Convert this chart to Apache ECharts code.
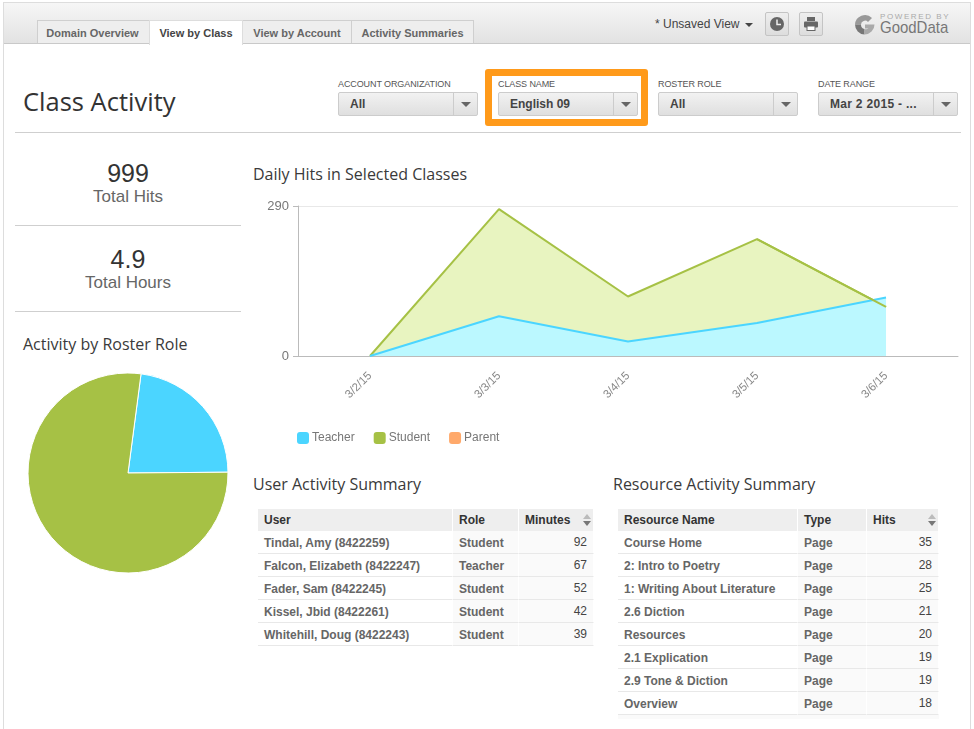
<!DOCTYPE html>
<html><head><meta charset="utf-8">
<script src="https://cdn.jsdelivr.net/npm/echarts@6/dist/echarts.min.js"></script>
<style>
html,body{margin:0;padding:0;background:#fff;width:974px;height:729px;overflow:hidden;font-family:"Liberation Sans",Arial,sans-serif}
#page{position:absolute;left:0;top:0;width:974px;height:729px;overflow:hidden}
#page div,#page table{position:absolute}
#chart{position:absolute;left:0;top:0;width:974px;height:729px}
.frame{left:3px;top:2px;width:966px;height:740px;border:1px solid #ddd}
.head{left:4px;top:3px;width:966px;height:40px;background:linear-gradient(#f6f6f6,#e2e2e2);border-bottom:1px solid #c9c9c9}
.tab{top:20px;height:23px;line-height:24px;text-align:center;font-size:11px;font-weight:bold;color:#666;background:#eee;border:1px solid #cfcfcf;border-bottom:none;box-sizing:border-box}
.tab.on{background:#fff;color:#444;border-color:#ddd;height:25px;z-index:2}
.h1{left:23px;top:83px;font:25.5px "Open Sans",sans-serif;color:#333;line-height:36px;white-space:nowrap}
.rule{height:1px;background:#cfcfcf}
.flab{top:79px;font-size:9px;letter-spacing:-.1px;color:#555;line-height:11px;white-space:nowrap}
.sel{top:92px;width:140px;height:24px;box-sizing:border-box;background:linear-gradient(#f2f2f2,#dfdfdf);border:1px solid #ccc;border-radius:2px;font-size:12px;font-weight:bold;color:#444;line-height:22px;padding-left:11px;white-space:nowrap}
.sel i{position:absolute;right:23px;top:0;width:1px;height:22px;background:#ccc}
.sel b{position:absolute;right:6px;top:9px;width:0;height:0;border:5px solid transparent;border-top:5px solid #666;border-bottom:none}
.orange{left:485px;top:69px;width:163px;height:57px;box-sizing:border-box;border:7px solid #ff9a1a;border-radius:3px}
.kpi{left:15px;width:226px;text-align:center;white-space:nowrap}
.num{font-size:25px;color:#333;line-height:28px}
.cap{font-size:17px;color:#666;line-height:20px}
.ttl{font:16px "Open Sans",sans-serif;color:#3a3a3a;line-height:22px;white-space:nowrap}
table{border-collapse:separate;border-spacing:0;table-layout:fixed;font-size:12px}
th{height:22px;background:#eee;color:#333;font-weight:bold;text-align:left;padding:0 6px;box-sizing:border-box;border-right:1px solid #fff;position:relative}
td{height:23px;box-sizing:border-box;padding:2px 6px 0;border-bottom:1px solid #e8e8e8;border-right:1px solid #fff;font-weight:bold;color:#666;background:#fafafa;white-space:nowrap}
td:first-child{background:#fff}
td.n{font-weight:normal;color:#444;text-align:right;padding:0 6px 0}
.sort{position:absolute;right:6px;top:5px;width:0;height:0}
.sort:before{content:"";position:absolute;left:-4px;top:0;border:4px solid transparent;border-bottom:5px solid #bbb;border-top:none}
.sort:after{content:"";position:absolute;left:-4px;top:7px;border:4px solid transparent;border-top:5px solid #777;border-bottom:none}
.btn{top:12px;width:24px;height:24px;box-sizing:border-box;background:linear-gradient(#eee,#ddd);border:1px solid #c4c4c4;border-radius:2px}
</style></head><body>
<div id="page">
 <div class="frame"></div><div class="head"></div>
 <div id="tabs"></div>
 <div style="left:655px;top:17px;font-size:12px;color:#444;white-space:nowrap">* Unsaved View</div>
 <div style="left:745px;top:23px;width:0;height:0;border:4px solid transparent;border-top:4px solid #444;border-bottom:none"></div>
 <div class="btn" style="left:765px"><svg width="22" height="22" viewBox="0 0 22 22"><circle cx="11" cy="11" r="7" fill="#666"/><path d="M11 6.5V11.5H15" stroke="#eee" stroke-width="1.5" fill="none"/></svg></div>
 <div class="btn" style="left:799px"><svg width="22" height="22" viewBox="0 0 22 22"><rect x="7" y="4" width="8" height="4" fill="#666"/><rect x="4" y="8.5" width="14" height="6" rx="1" fill="#666"/><rect x="7" y="13" width="8" height="4.5" fill="#fff" stroke="#666"/></svg></div>
 <div style="left:854px;top:14px;width:21px;height:21px"><svg width="21" height="21" viewBox="0 0 21 21"><path d="M18 4A10 10 0 0 0 1 10.5H7A4 4 0 0 1 14 8Z" fill="#999"/><path d="M1 10.5A10 10 0 0 0 10.5 20.500V15A4.500 4.500 0 0 1 7 10.500Z" fill="#777"/><path d="M10.500 20.500A10 10 0 0 0 20.500 10.500H11V14.500H14.500A4.500 4.500 0 0 1 10.500 15Z" fill="#aaa"/></svg></div>
 <div style="left:880px;top:12px;font-size:8px;letter-spacing:1.6px;color:#aaa;white-space:nowrap">POWERED BY</div>
 <div style="left:880px;top:18px;font-size:17px;color:#777;white-space:nowrap;line-height:20px;transform:scaleX(.88);transform-origin:left">GoodData</div>
 <div class="h1">Class Activity</div>
 <div class="rule" style="left:15px;top:132px;width:946px"></div>
 <div class="orange"></div>
 <div id="filters"></div>
 <div class="kpi num" style="top:159px" id="k1"></div><div class="kpi cap" style="top:187px" id="k1c"></div>
 <div class="rule" style="left:15px;top:225px;width:226px"></div>
 <div class="kpi num" style="top:245px" id="k2"></div><div class="kpi cap" style="top:273px" id="k2c"></div>
 <div class="rule" style="left:15px;top:311px;width:226px"></div>
 <div class="ttl" style="left:23px;top:333px">Activity by Roster Role</div>
 <div class="ttl" style="left:253px;top:163px">Daily Hits in Selected Classes</div>
 <div class="ttl" style="left:253px;top:473px">User Activity Summary</div>
 <div class="ttl" style="left:613px;top:473px">Resource Activity Summary</div>
 <table id="t1" style="left:258px;top:509px;width:336px"></table>
 <table id="t2" style="left:618px;top:509px;width:321px"></table>
 <div style="left:618px;top:715px;width:321px;height:4px;background:#fafafa"></div>
</div>
<div id="chart"></div>
<script>
const tabNames = ["Domain Overview","View by Class","View by Account","Activity Summaries"];
const filterLabels = ["ACCOUNT ORGANIZATION","CLASS NAME","ROSTER ROLE","DATE RANGE"];
const filterValues = ["All","English 09","All","Mar 2 2015 - ..."];
const kpis = [["999","Total Hits"],["4.9","Total Hours"]];
const dates = ["3/2/15","3/3/15","3/4/15","3/5/15","3/6/15"];
const teacherHits = [0,77,28,64,113];
const studentHits = [0,284,115,226,95];
const roleNames = ["Teacher","Student","Parent"];
const roleMinutes = [67,227,0];
const roleColors = ["#4bd5ff","#a6c145","#ffa96b"];
const userHead = ["User","Role","Minutes"];
const userRows = [["Tindal, Amy (8422259)","Student",92],["Falcon, Elizabeth (8422247)","Teacher",67],["Fader, Sam (8422245)","Student",52],["Kissel, Jbid (8422261)","Student",42],["Whitehill, Doug (8422243)","Student",39]];
const resHead = ["Resource Name","Type","Hits"];
const resRows = [["Course Home","Page",35],["2: Intro to Poetry","Page",28],["1: Writing About Literature","Page",25],["2.6 Diction","Page",21],["Resources","Page",20],["2.1 Explication","Page",19],["2.9 Tone & Diction","Page",19],["Overview","Page",18]];

const tabBox=[[37,113],[149,94],[242,110],[351,123]];
document.getElementById('tabs').innerHTML=tabNames.map((t,i)=>`<div class="tab${i==1?' on':''}" style="left:${tabBox[i][0]}px;width:${tabBox[i][1]}px${i==0?';padding-right:2px':''}">${t}</div>`).join('');
const fx=[338,498,658,818];
document.getElementById('filters').innerHTML=filterLabels.map((l,i)=>`<div class="flab" style="left:${fx[i]}px">${l}</div><div class="sel" style="left:${fx[i]}px${i==3?';letter-spacing:.3px':''}">${filterValues[i]}<i></i><b></b></div>`).join('');
k1.textContent=kpis[0][0];k1c.textContent=kpis[0][1];k2.textContent=kpis[1][0];k2c.textContent=kpis[1][1];
function tbl(id,head,rows,w){
 const esc=s=>String(s).replace(/&/g,'&amp;');
 document.getElementById(id).innerHTML=`<colgroup>${w.map(x=>`<col style="width:${x}px">`).join('')}</colgroup><tr>${head.map((h,i)=>`<th>${h}${i==2?'<span class="sort"></span>':''}</th>`).join('')}</tr>`+rows.map(r=>`<tr><td>${esc(r[0])}</td><td>${r[1]}</td><td class="n">${r[2]}</td></tr>`).join('');
}
tbl('t1',userHead,userRows,[195,66,75]);
tbl('t2',resHead,resRows,[180,69,72]);

const idx=dates.map((d,i)=>i);
const pair=a=>a.map((v,i)=>[i,v]);
const chart=echarts.init(document.getElementById('chart'),null,{renderer:'canvas'});
chart.setOption({
 animation:false,
 textStyle:{fontFamily:'"Liberation Sans",Arial,sans-serif'},
 color:roleColors,
 legend:{left:297,top:432,padding:0,icon:'roundRect',itemWidth:12,itemHeight:12,itemGap:19,data:roleNames,
  textStyle:{fontSize:12,color:'#777',padding:[1,0,0,-2]}},
 grid:{left:298,top:206,width:660,height:150,containLabel:false},
 xAxis:{type:'value',min:-0.558,max:4.558,
  axisLine:{show:true,onZero:false,lineStyle:{color:'#bbb'}},
  axisTick:{show:false},splitLine:{show:false},
  axisLabel:{customValues:idx,rotate:45,margin:18,fontSize:11.5,color:'#888',formatter:v=>dates[v]}},
 yAxis:{type:'value',min:0,max:290,interval:290,
  axisLine:{show:true,onZero:false,lineStyle:{color:'#bbb'}},
  axisTick:{show:true,length:5,lineStyle:{color:'#bbb'}},
  splitLine:{show:true,lineStyle:{color:'#e8e8e8'}},
  axisLabel:{fontSize:13,color:'#777',margin:9,padding:[5,0,0,0]}},
 series:[
  {name:roleNames[1],type:'line',z:2,data:pair(studentHits),showSymbol:false,lineStyle:{width:2,color:roleColors[1]},itemStyle:{color:roleColors[1]},areaStyle:{color:'#e8f4c0',opacity:1}},
  {name:roleNames[0],type:'line',z:3,data:pair(teacherHits),showSymbol:false,lineStyle:{width:2,color:roleColors[0]},itemStyle:{color:roleColors[0]},areaStyle:{color:'#bbf8ff',opacity:1}},
  {name:roleNames[1],type:'line',z:4,data:pair(studentHits).slice(3),showSymbol:false,lineStyle:{width:2,color:roleColors[1]},itemStyle:{color:roleColors[1]}},
  {name:roleNames[2],type:'line',z:1,data:[],showSymbol:false,itemStyle:{color:roleColors[2]}},
  {name:'Roster',type:'pie',center:[128,473],radius:[0,100],startAngle:82.5,label:{show:false},labelLine:{show:false},
   itemStyle:{borderColor:'#fff',borderWidth:1},
   data:roleNames.map((n,i)=>({name:n,value:roleMinutes[i],itemStyle:{color:roleColors[i]}})).filter(d=>d.value>0)}
 ]
});
</script>
</body></html>
